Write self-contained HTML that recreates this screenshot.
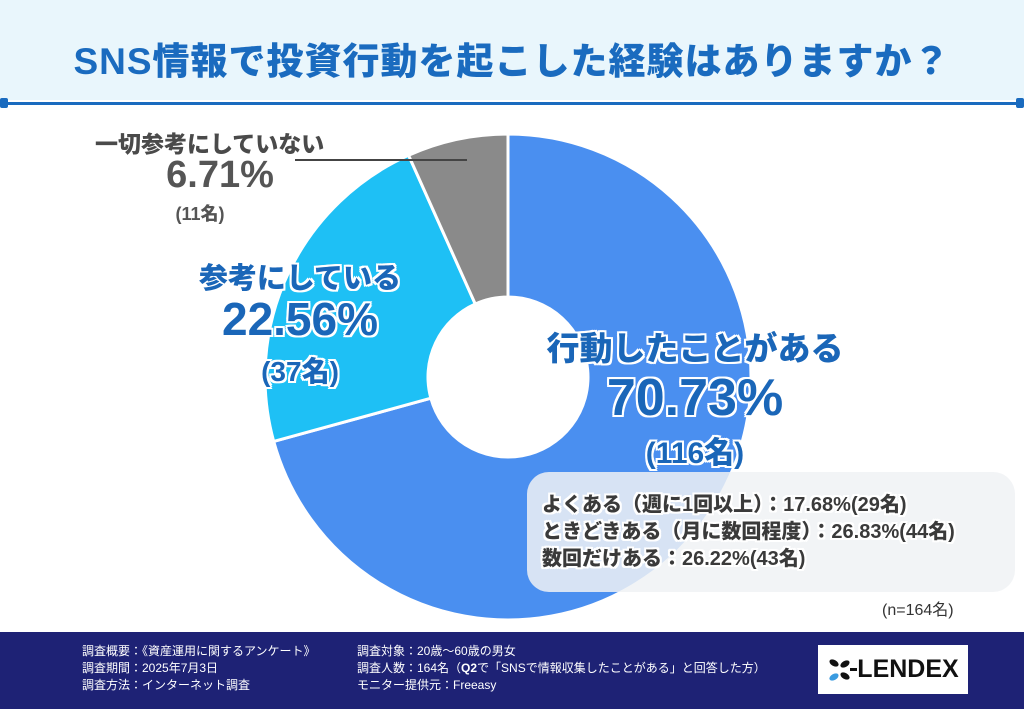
<!DOCTYPE html>
<html><head><meta charset="utf-8"><style>
body{margin:0;width:1024px;height:709px;overflow:hidden;background:#fff;font-family:"Liberation Sans","Noto Sans CJK JP",sans-serif;position:relative}
.abs{position:absolute}
.lbl{font-weight:900;text-align:center;white-space:nowrap}
.ow{text-shadow:2px 0 #fff,-2px 0 #fff,0 2px #fff,0 -2px #fff,2px 2px #fff,-2px -2px #fff,2px -2px #fff,-2px 2px #fff}
</style></head><body>
<div class="abs" style="left:0;top:0;width:1024px;height:100px;background:#e9f6fc"></div>
<div class="abs lbl" style="left:0;top:31px;width:1024px;font-size:37px;color:#1a6bbf;letter-spacing:1px">SNS情報で投資行動を起こした経験はありますか？</div>
<div class="abs" style="left:4px;top:102px;width:1016px;height:3px;background:#1a6bbf"></div>
<div class="abs" style="left:0;top:98px;width:8px;height:10px;background:#1a6bbf;border-radius:2px"></div>
<div class="abs" style="left:1016px;top:98px;width:8px;height:10px;background:#1a6bbf;border-radius:2px"></div>

<svg class="abs" style="left:0;top:0" width="1024" height="709">
<g id="slices"></g>
<line x1="295" y1="160" x2="467" y2="160" stroke="#444" stroke-width="2"/>
</svg>

<div class="abs" style="left:527px;top:472px;width:488px;height:120px;background:rgba(240,242,245,0.85);border-radius:22px"></div>
<div class="abs ow" style="left:542px;top:492px;font-size:20px;font-weight:900;color:#3a3a3a;line-height:27px;white-space:nowrap">よくある（週に1回以上）：17.68%(29名)<br>ときどきある（月に数回程度）：26.83%(44名)<br>数回だけある：26.22%(43名)</div>
<div class="abs" style="left:882px;top:596px;font-size:16px;color:#333">(n=164名)</div>

<div class="abs lbl" style="left:95px;top:125px;font-size:23px;color:#4a4a4a">一切参考にしていない</div>
<div class="abs lbl" style="left:140px;top:154px;width:160px;font-size:38px;color:#555">6.71%</div>
<div class="abs lbl" style="left:140px;top:200px;width:120px;font-size:18px;color:#555">(11名)</div>

<div class="abs lbl ow" style="left:160px;top:255px;width:280px;font-size:29px;color:#1a66b8">参考にしている</div>
<div class="abs lbl ow" style="left:160px;top:292px;width:280px;font-size:46px;color:#1a66b8">22.56%</div>
<div class="abs lbl ow" style="left:160px;top:350px;width:280px;font-size:28px;color:#1a66b8">(37名)</div>

<div class="abs lbl ow" style="left:530px;top:322px;width:330px;font-size:33px;color:#1a66b8">行動したことがある</div>
<div class="abs lbl ow" style="left:530px;top:368px;width:330px;font-size:52px;color:#1a66b8">70.73%</div>
<div class="abs lbl ow" style="left:530px;top:428px;width:330px;font-size:30px;color:#1a66b8">(116名)</div>

<div class="abs" style="left:0;top:632px;width:1024px;height:77px;background:#1e2275"></div>
<div class="abs" style="left:82px;top:643px;font-size:12px;color:#fff;line-height:17px;white-space:nowrap">調査概要：《資産運用に関するアンケート》<br>調査期間：2025年7月3日<br>調査方法：インターネット調査</div>
<div class="abs" style="left:357px;top:643px;font-size:12px;color:#fff;line-height:17px;white-space:nowrap">調査対象：20歳～60歳の男女<br>調査人数：164名（<b>Q2</b>で「SNSで情報収集したことがある」と回答した方）<br>モニター提供元：Freeasy</div>
<div class="abs" style="left:818px;top:645px;width:150px;height:49px;background:#fff;display:flex;align-items:center;justify-content:center;font-size:25px;font-weight:bold;color:#111">
<svg width="30" height="26" viewBox="0 0 30 26"><ellipse cx="7" cy="6" rx="5" ry="3" fill="#111" transform="rotate(30 7 6)"/><ellipse cx="18" cy="7" rx="5" ry="3" fill="#111" transform="rotate(-30 18 7)"/><ellipse cx="18" cy="19" rx="5" ry="3" fill="#111" transform="rotate(30 18 19)"/><ellipse cx="7" cy="20" rx="5" ry="3" fill="#3a9be0" transform="rotate(-30 7 20)"/><rect x="23" y="11" width="7" height="3" fill="#111"/></svg>LENDEX</div>

<script>
const categories = ["行動したことがある","参考にしている","一切参考にしていない"];
const values = [70.73, 22.56, 6.71];
const colors = ["#4a8ff0","#1ec0f5","#8a8a8a"];
const cx=508, cy=377, R=243, r=80;
const g=document.getElementById('slices');
const total=values.reduce((a,b)=>a+b,0);
let a0=-Math.PI/2;
function pt(a,rad){return [cx+rad*Math.cos(a), cy+rad*Math.sin(a)];}
values.forEach((v,i)=>{
  const a1=a0+v/total*2*Math.PI;
  const large=(a1-a0)>Math.PI?1:0;
  const [x0,y0]=pt(a0,R),[x1,y1]=pt(a1,R),[x2,y2]=pt(a1,r),[x3,y3]=pt(a0,r);
  const p=document.createElementNS('http://www.w3.org/2000/svg','path');
  p.setAttribute('d',`M${x0},${y0}A${R},${R} 0 ${large} 1 ${x1},${y1}L${x2},${y2}A${r},${r} 0 ${large} 0 ${x3},${y3}Z`);
  p.setAttribute('fill',colors[i]);
  p.setAttribute('stroke','#fff');
  p.setAttribute('stroke-width','3');
  
  
  g.appendChild(p);
  a0=a1;
});
</script>
</body></html>
